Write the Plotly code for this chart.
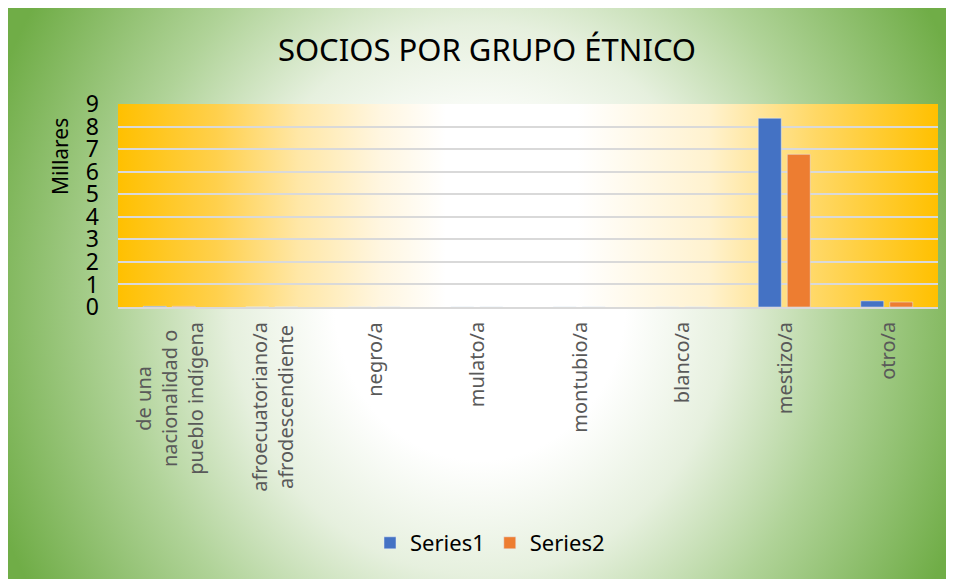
import base64
import plotly.graph_objects as go

categories = [
    "de una<br>nacionalidad o<br>pueblo indígena",
    "afroecuatoriano/a<br>afrodescendiente",
    "negro/a",
    "mulato/a",
    "montubio/a",
    "blanco/a",
    "mestizo/a",
    "otro/a",
]
series1 = [0.03, 0, 0, 0, 0, 0, 8.37, 0.27]
series2 = [0.03, 0, 0, 0, 0, 0, 6.77, 0.22]
y_ticks = [0, 1, 2, 3, 4, 5, 6, 7, 8, 9]

# page has an 8px body margin, so the figure is 8px smaller
W, H = 946, 571
ML, MR, MT, MB = 110, 16, 96, 272
PW, PH = W - ML - MR, H - MT - MB

svg = f'''<svg xmlns="http://www.w3.org/2000/svg" width="{W}" height="{H}" viewBox="0 0 {W} {H}" preserveAspectRatio="none">
<defs>
<radialGradient id="g" gradientUnits="userSpaceOnUse" cx="0" cy="0" r="1" gradientTransform="translate(472 292) scale(520 573)">
<stop offset="0" stop-color="#ffffff"/>
<stop offset="0.28" stop-color="#ffffff"/>
<stop offset="0.48" stop-color="#e6f0de"/>
<stop offset="0.7" stop-color="#b0d398"/>
<stop offset="1" stop-color="#70ad47"/>
</radialGradient>
<linearGradient id="o" gradientUnits="userSpaceOnUse" x1="{ML}" y1="0" x2="{ML+PW}" y2="0">
<stop offset="0" stop-color="#ffc000"/>
<stop offset="0.12" stop-color="#ffd04c"/>
<stop offset="0.22" stop-color="#ffe7a6"/>
<stop offset="0.32" stop-color="#fff6e0"/>
<stop offset="0.4" stop-color="#ffffff"/>
<stop offset="0.56" stop-color="#ffffff"/>
<stop offset="0.72" stop-color="#fff2cf"/>
<stop offset="0.85" stop-color="#ffd866"/>
<stop offset="1" stop-color="#ffc000"/>
</linearGradient>
</defs>
<rect x="0" y="0" width="{W}" height="{H}" fill="url(#g)"/>
<rect x="{ML}" y="{MT}" width="{PW}" height="{PH}" fill="url(#o)"/>
</svg>'''
src = "data:image/svg+xml;base64," + base64.b64encode(svg.encode("utf-8")).decode("ascii")

FONT = "Noto Sans"

fig = go.Figure()
fig.add_trace(go.Bar(name="Series1", x=categories, y=series1, marker_color="#4472C4"))
fig.add_trace(go.Bar(name="Series2", x=categories, y=series2, marker_color="#ED7D31"))

annotations = [dict(
    text="Millares", xref="paper", yref="paper",
    x=(52 - ML) / PW, y=(MT + PH - 149) / PH,
    textangle=-90, showarrow=False,
    font=dict(size=21, color="#000000", family=FONT),
    xanchor="center", yanchor="middle",
)]
# category labels: rotated, lines centred like the reference
for c in categories:
    annotations.append(dict(
        text=c, x=c, xref="x", y=0, yref="paper",
        yshift=-13, yanchor="top", xanchor="center",
        textangle=-90, align="center", showarrow=False,
        font=dict(size=20, color="#595959", family=FONT),
    ))

fig.update_layout(
    width=W, height=H,
    margin=dict(l=ML, r=MR, t=MT, b=MB, autoexpand=False),
    paper_bgcolor="white",
    plot_bgcolor="rgba(0,0,0,0)",
    barmode="group",
    bargap=0.434,
    bargroupgap=0.207,
    font=dict(family=FONT, color="#000000"),
    title=dict(
        text="SOCIOS POR GRUPO ÉTNICO",
        x=479 / W, xref="container", xanchor="center",
        y=1 - 42 / H, yref="container", yanchor="middle",
        font=dict(size=31, color="#000000", family=FONT),
    ),
    showlegend=True,
    legend=dict(
        orientation="h",
        x=(482 - ML) / PW, xanchor="center",
        y=(MT + PH - 535) / PH, yanchor="middle",
        font=dict(size=22, color="#000000", family=FONT),
        bgcolor="rgba(0,0,0,0)",
    ),
    images=[dict(
        source=src, xref="paper", yref="paper",
        x=-ML / PW, y=1 + MT / PH, sizex=W / PW, sizey=H / PH,
        xanchor="left", yanchor="top", sizing="stretch", layer="below",
    )],
    annotations=annotations,
)

fig.update_xaxes(
    showticklabels=False,
    showline=True, linecolor="#D9D9D9", linewidth=2,
    showgrid=False, ticks="",
)
fig.update_yaxes(
    range=[0, 9], tickvals=y_ticks, ticktext=[str(v) for v in y_ticks],
    tickfont=dict(size=23, color="#000000", family=FONT),
    showgrid=True, gridcolor="#D9D9D9", gridwidth=2,
    zeroline=False, showline=False, ticks="",
    ticklabelstandoff=18,
)

fig.write_html("out.html")
